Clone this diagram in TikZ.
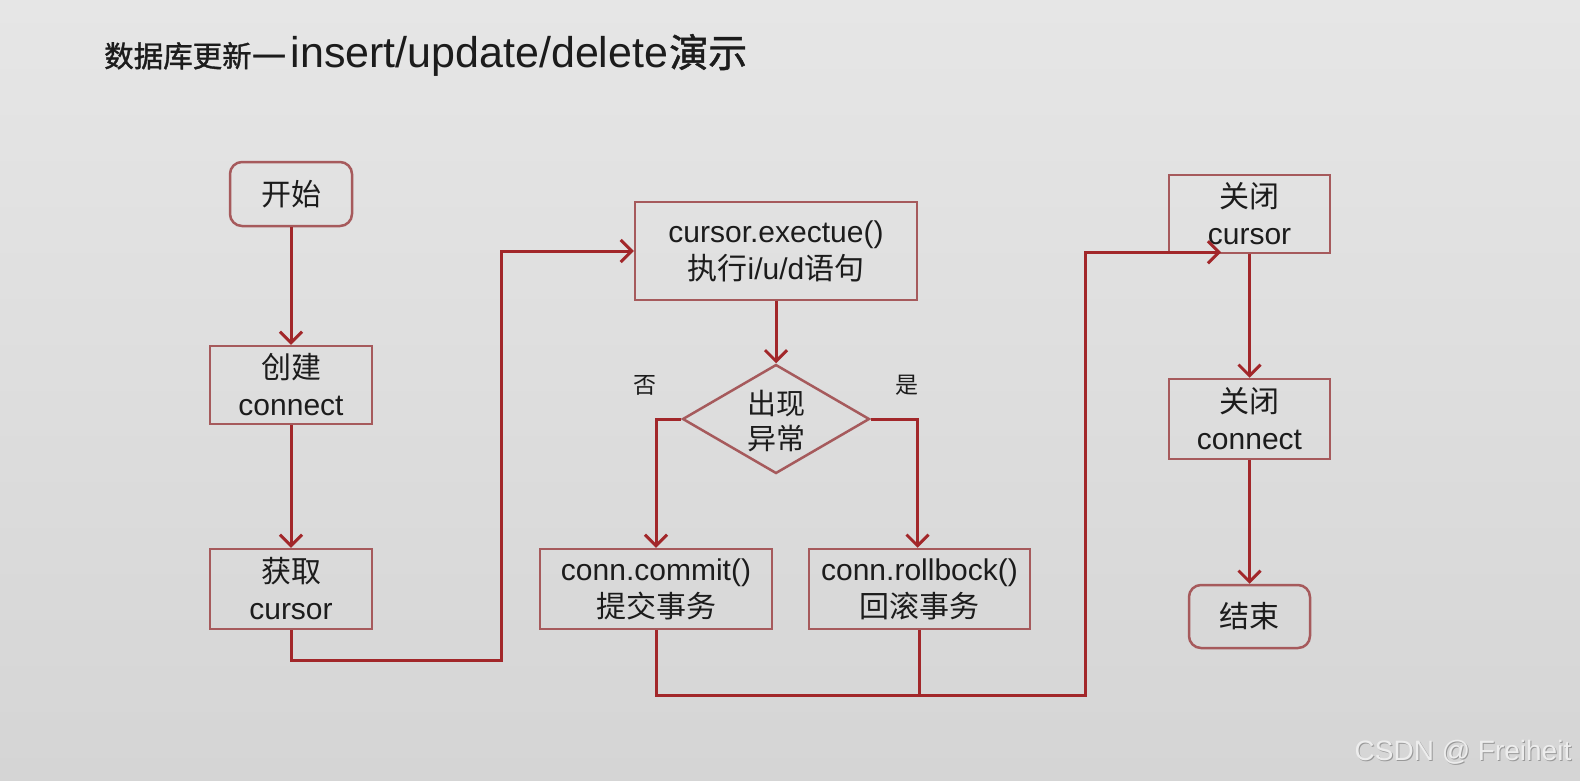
\documentclass[tikz,border=0pt]{standalone}
\usepackage{fontspec}
\setmainfont{Liberation Sans}
\newfontfamily\cjk{Noto Sans CJK SC}
\newfontfamily\cjkt[FakeBold=1.2]{Noto Sans CJK SC}
\usetikzlibrary{arrows.meta,shapes.geometric,calc}
\definecolor{linecol}{HTML}{A2272A}
\definecolor{boxcol}{HTML}{A65A5C}
\definecolor{txt}{HTML}{1C1C1C}
\definecolor{bgtop}{HTML}{E6E6E6}
\definecolor{bgmid}{HTML}{F2F2F2}
\definecolor{bgbot}{HTML}{D5D5D5}
\begin{document}
\begin{tikzpicture}[x=1pt,y=-1pt,
  box/.style={draw=boxcol, line width=2.5pt, align=center, text=txt, inner sep=0pt,
    font=\fontsize{30}{37}\selectfont},
  rbox/.style={box, rounded corners=12pt},
  flow/.style={draw=linecol, line width=3pt},
  arr/.style={flow, -{Straight Barb[length=11pt,width=22pt]}},
  lbl/.style={text=txt, font=\cjk\fontsize{23}{26}\selectfont, inner sep=0pt}]
\shade[top color=bgtop, middle color=bgmid, bottom color=bgbot] (0,0) rectangle (1580,780);
\useasboundingbox (0,0) rectangle (1580,780);
% title
\node[anchor=base west, inner sep=0pt, text=txt] (title) at (104,67)
  {{\cjkt\fontsize{29.5}{36}\selectfont 数据库更新}{\cjkt\fontsize{39}{44}\selectfont —}\hspace{4pt}{\fontsize{43}{50}\selectfont insert/update/delete}\hspace{1pt}{\cjkt\fontsize{39}{44}\selectfont 演示}};
% nodes
\node[rbox, minimum width=122pt, minimum height=64pt] (start) at (291,194) {{\cjk 开始}};
\node[box, minimum width=162pt, minimum height=78pt] (create) at (291,385) {{\cjk 创建}\\connect};
\node[box, minimum width=162pt, minimum height=80pt] (getcur) at (291,589) {{\cjk 获取}\\cursor};
\node[box, minimum width=282pt, minimum height=98pt] (exec) at (776,251) {cursor.exectue()\\{\cjk 执行}i/u/d{\cjk 语句}};
\node[draw=boxcol, line width=2.5pt, shape=diamond, aspect=1.716, inner sep=0pt,
  minimum width=187pt, minimum height=109pt, text=txt,
  font=\cjk\fontsize{29}{35}\selectfont] (dia) at (776,419)
  {\raisebox{-6pt}[\height][\depth]{\begin{tabular}{@{}c@{}}出现\\异常\end{tabular}}};
\node[box, minimum width=232pt, minimum height=80pt] (commit) at (656,589) {conn.commit()\\{\cjk 提交事务}};
\node[box, minimum width=221pt, minimum height=80pt] (rollback) at (919.5,589) {conn.rollbock()\\{\cjk 回滚事务}};
\node[box, minimum width=161pt, minimum height=78pt] (closecur) at (1249.5,214) {{\cjk 关闭}\\cursor};
\node[box, minimum width=161pt, minimum height=80pt] (closecon) at (1249.5,419) {{\cjk 关闭}\\connect};
\node[rbox, minimum width=121pt, minimum height=63pt] (end) at (1249.5,616.5) {{\cjk 结束}};
\node[lbl] (no) at (645,385) {否};
\node[lbl] (yes) at (907,385) {是};
% connectors
\draw[arr] (start) -- (create);
\draw[arr] (create) -- (getcur);
\draw[arr] (getcur.south) -- ++(0,30) -| ($(exec.west)+(-132,0)$) -- (exec.west);
\draw[arr] (exec.south) -- (dia.north);
\draw[arr] (dia.west) -| (commit.north);
\draw[arr] (dia.east) -| ($(rollback.north)+(-2,0)$);
\coordinate (bus) at ($(closecur.south west)+(-82,441)$);
\draw[arr] (commit.south) |- (bus) |- ($(closecur.south)+(-28.5,-2)$);
\draw[flow] (rollback.south) -- ++(0,65);
\draw[arr] (closecur.south) -- (closecon.north);
\draw[arr] (closecon) -- (end);
% watermark
\node[text=black!40, font=\fontsize{28}{32}\selectfont, inner sep=0pt] (wms) at (1464,753) {CSDN @ Freiheit};
\node[text=white!93!black, font=\fontsize{28}{32}\selectfont, inner sep=0pt] (wm) at (1463,752) {CSDN @ Freiheit};
\end{tikzpicture}
\end{document}
